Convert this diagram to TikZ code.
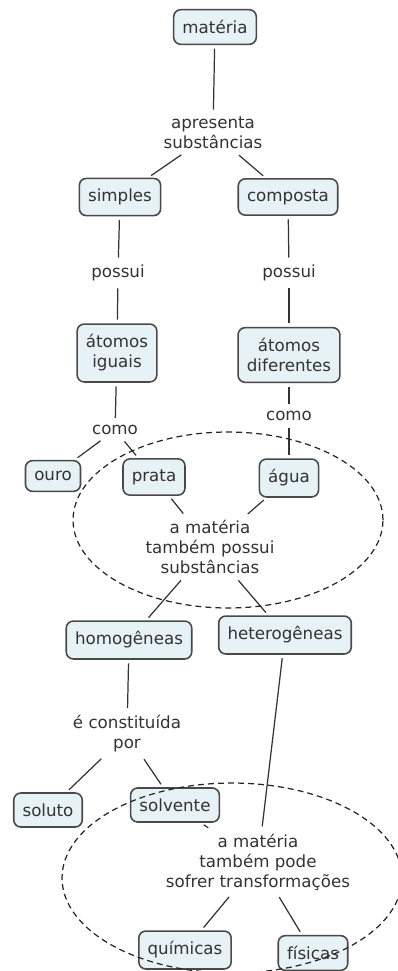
\documentclass[tikz,border=0pt]{standalone}
\usepackage{fontspec}
\setmainfont{DejaVu Sans}
\usetikzlibrary{calc}
\definecolor{boxfill}{HTML}{E6F2F6}
\definecolor{boxline}{HTML}{4A4A4A}
\definecolor{ink}{HTML}{333333}
\begin{document}
\begin{tikzpicture}[x=0.02cm,y=-0.02cm,
		concept/.style={draw=boxline,line width=0.9pt,fill=boxfill,rounded corners=4pt,
			inner xsep=5pt,inner ysep=6pt,align=center,text=ink,
			font=\fontsize{9.5}{11.4}\selectfont},
		linkword/.style={inner sep=2pt,align=center,text=ink,
			font=\fontsize{9.5}{11.4}\selectfont},
		conn/.style={draw=ink,line width=0.7pt,shorten <=2pt,shorten >=2pt},
		zone/.style={draw=black!85,line width=0.7pt,dash pattern=on 3.4pt off 2.3pt}]
			\useasboundingbox (0,0) rectangle (398,971);
			\node[concept](materia) at (215,27) {matéria};
			\node[linkword](apresenta) at (213,133) {apresenta\\substâncias};
			\node[concept](simples) at (120,197) {simples};
			\node[concept](composta) at (288,197) {composta};
			\node[linkword](possuiA) at (118,273) {possui};
			\node[linkword](possuiB) at (289,273) {possui};
			\node[concept](iguais) at (117,353) {átomos\\iguais};
			\node[concept](diferentes) at (289,355) {átomos\\diferentes};
			\node[linkword](comoA) at (115,430) {como};
			\node[linkword](comoB) at (289,416) {como};
			\node[concept](ouro) at (53,476) {ouro};
			\node[concept](prata) at (154,477) {prata};
			\node[concept](agua) at (289,478) {água};
			\node[linkword](possuiC) at (210,547) {a matéria\\também possui\\substâncias};
			\node[concept](homo) at (129,640) {homogêneas};
			\node[concept](hetero) at (285,635) {heterogêneas};
			\node[linkword](constituida) at (127,734) {é constituída\\por};
			\node[concept](soluto) at (48,810) {soluto};
			\node[concept](solvente) at (175,805) {solvente};
			\node[linkword](pode) at (258,862) {a matéria\\também pode\\sofrer transformações};
			\node[concept](quimicas) at (185,950) {químicas};
			\node[concept](fisicas) at (313,953) {físicas};
			
			\draw[conn](materia) -- (apresenta);
			\draw[conn](apresenta) -- (simples);
			\draw[conn](apresenta) -- (composta);
			\draw[conn](simples) -- (possuiA);
			\draw[conn](possuiA) -- (iguais);
			\draw[conn](composta) -- (possuiB);
			\draw[conn](possuiB) -- (diferentes);
			\draw[conn](iguais) -- (comoA);
			\draw[conn](comoA) -- (ouro);
			\draw[conn](comoA) -- (prata);
			\draw[conn](diferentes) -- (comoB);
			\draw[conn](comoB) -- (agua);
			\draw[conn](prata) -- (possuiC);
			\draw[conn](agua) -- (possuiC);
			\draw[conn](possuiC) -- (homo);
			\draw[conn](possuiC) -- (hetero);
			\draw[conn](homo) -- (constituida);
			\draw[conn](constituida) -- (soluto);
			\draw[conn](constituida) -- (solvente);
			\draw[conn](hetero) -- (pode);
			\draw[conn](solvente) -- (pode);
			\draw[conn](pode) -- (quimicas);
			\draw[conn](pode) -- (fisicas);
			
			\draw[zone] (228,520) ellipse [x radius=3.1cm, y radius=1.76cm];
			\draw[zone] (232,878) ellipse [x radius=3.4cm, y radius=1.9cm];
		\end{tikzpicture}
\end{document}
